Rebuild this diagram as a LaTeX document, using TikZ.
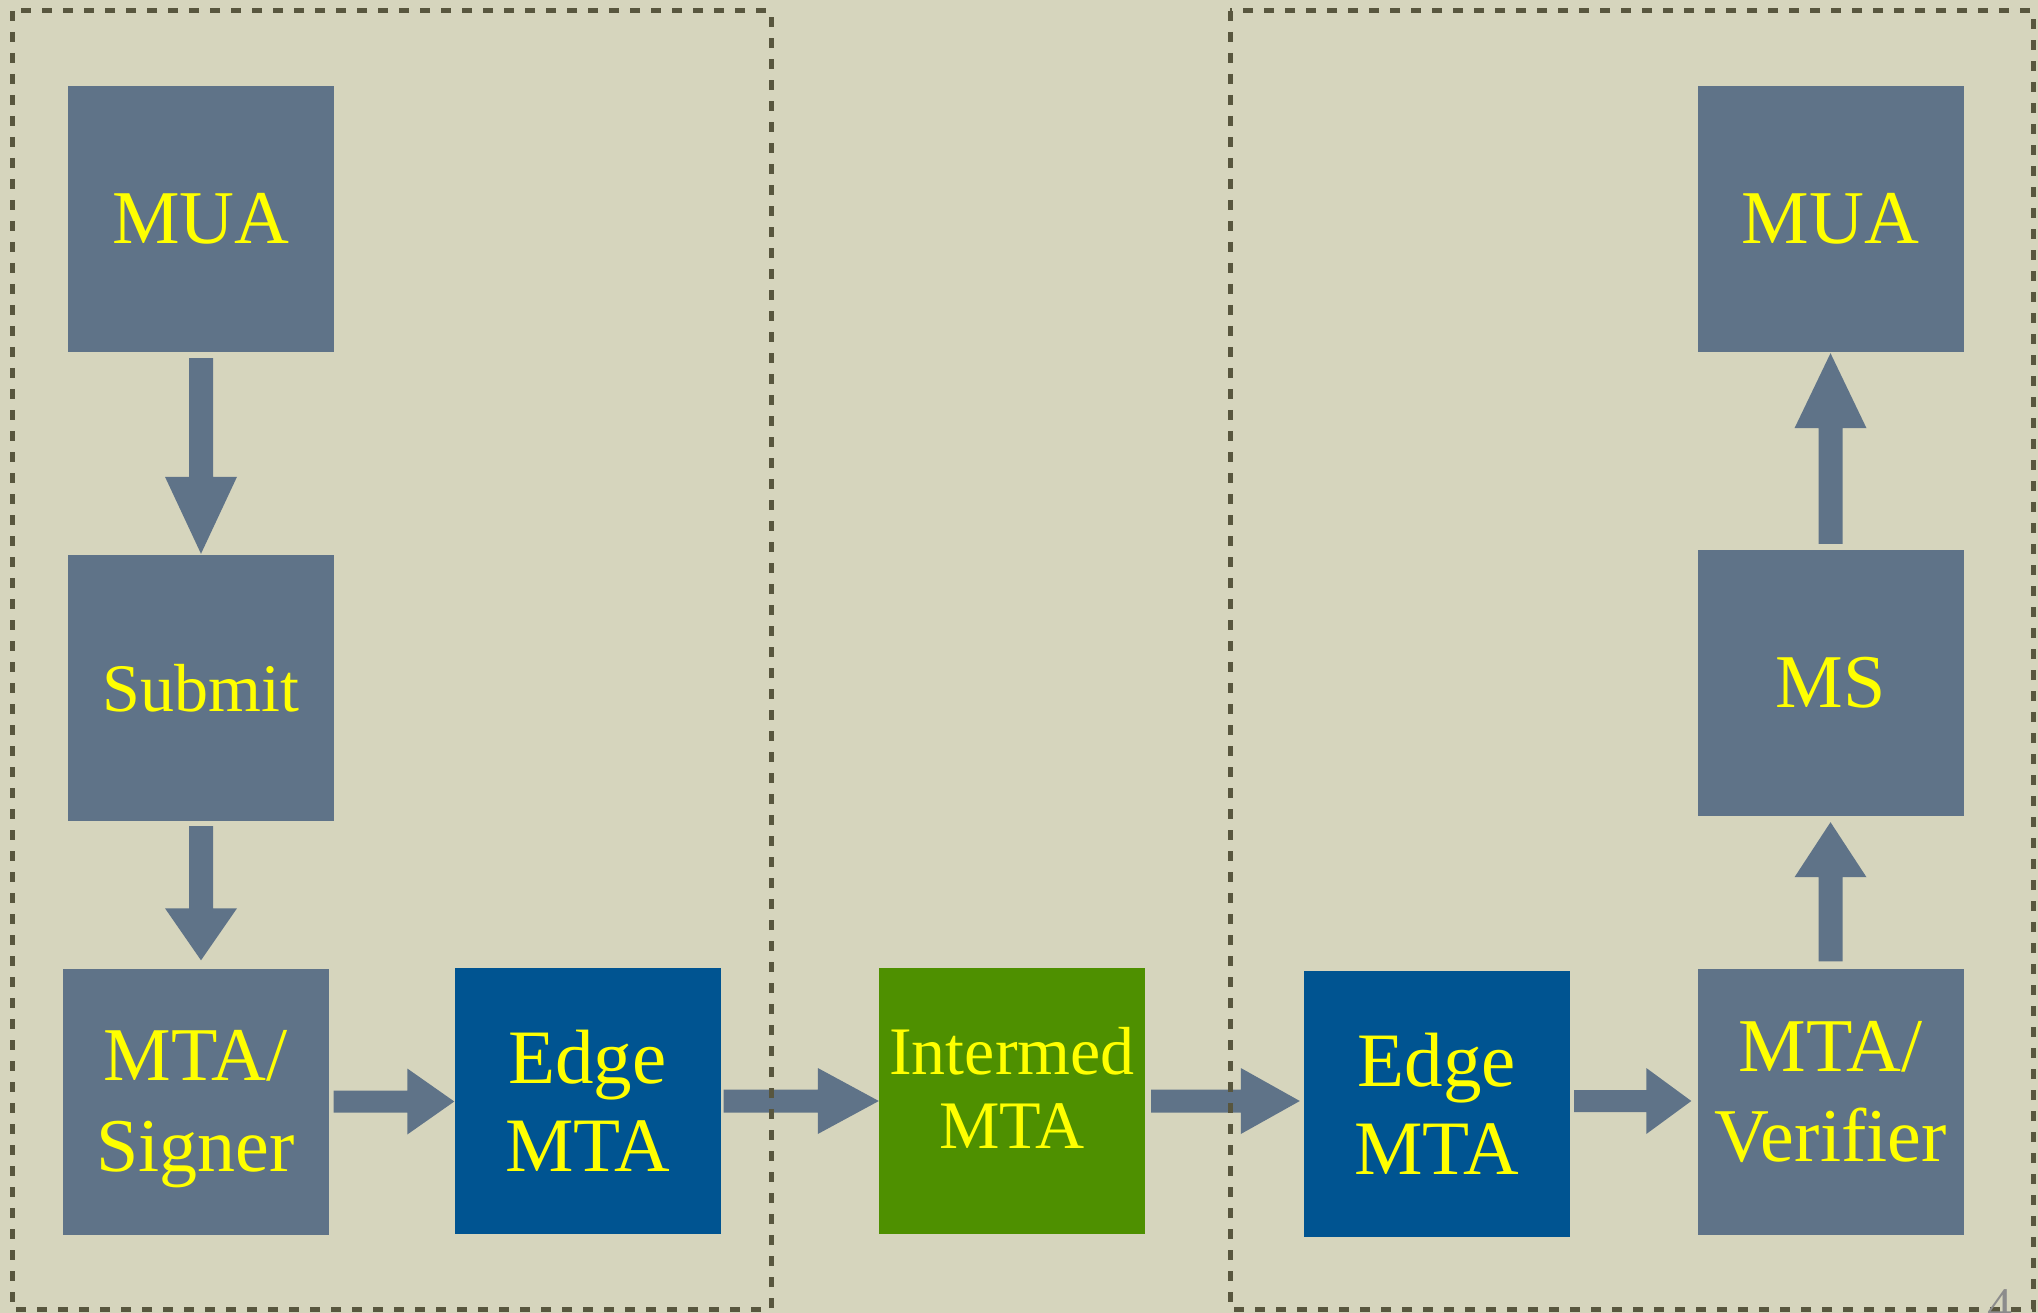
\documentclass[tikz,border=0pt]{standalone}
\usepackage{fontspec}
\setmainfont{Liberation Serif}
\usetikzlibrary{calc}
\definecolor{bgc}{RGB}{214,213,189}
\definecolor{slate}{RGB}{95,115,136}
\definecolor{edgeblue}{RGB}{0,84,145}
\definecolor{intgreen}{RGB}{78,144,0}
\definecolor{dashc}{RGB}{88,86,62}
\definecolor{txtyellow}{RGB}{255,255,0}
\definecolor{pagegray}{RGB}{140,140,140}
% #1 from, #2 to, #3 start gap, #4 end gap, #5 shaft half width, #6 head half width, #7 head length
\newcommand{\blockarrow}[7]{%
  \coordinate (ba-s) at ($(#1)!#3!(#2)$);
  \coordinate (ba-e) at ($(#2)!#4!(#1)$);
  \coordinate (ba-h) at ($(ba-e)!#7!(ba-s)$);
  \fill[arrowfill] ($(ba-s)!#5!90:(ba-e)$) -- ($(ba-h)!#5!90:(ba-e)$) --
    ($(ba-h)!#6!90:(ba-e)$) -- (ba-e) -- ($(ba-h)!#6!-90:(ba-e)$) --
    ($(ba-h)!#5!-90:(ba-e)$) -- ($(ba-s)!#5!-90:(ba-e)$) -- cycle;
}
\tikzset{
  box/.style={minimum width=266pt, minimum height=266pt, inner sep=0pt,
    text=txtyellow, align=center, font=\fontsize{76}{90}\selectfont},
  slatebox/.style={box, fill=slate},
  edgebox/.style={box, fill=edgeblue},
  interbox/.style={box, fill=intgreen},
  lbl/.style={inner sep=0pt, text=txtyellow, align=center, font=\fontsize{76}{90}\selectfont},
  arrowfill/.style={fill=slate},
  zone/.style={draw=dashc, line width=5pt, dash pattern=on 10pt off 11pt},
}
\begin{document}
\begin{tikzpicture}[x=1pt,y=-1pt]
\useasboundingbox (0,0) rectangle (2038,1313);
\fill[bgc] (0,0) rectangle (2038,1313);

% nodes
\node[slatebox] (mua1) at (201,219) {MUA};
\node[slatebox, font=\fontsize{68}{80}\selectfont] (submit) at (201,688) {Submit};
\node[slatebox] (signer) at (195.5,1101.5) {};
\node[lbl, font=\fontsize{76}{91}\selectfont, yshift=-8pt] (signer-t) at (signer.center) {MTA/\\Signer};
\node[edgebox, font=\fontsize{77}{88}\selectfont] (edge1) at (587.5,1101) {Edge\\MTA};
\node[interbox] (inter) at (1012,1101) {};
\node[lbl, font=\fontsize{68}{74}\selectfont, yshift=13pt] (inter-t) at (inter.center) {Intermed\\MTA};
\node[edgebox, font=\fontsize{77}{88}\selectfont] (edge2) at (1437,1104) {Edge\\MTA};
\node[slatebox] (verif) at (1830.5,1101.5) {};
\node[lbl, font=\fontsize{76}{90}\selectfont, yshift=10pt] (verif-t) at (verif.center) {MTA/\\Verifier};
\node[slatebox] (ms) at (1830.5,683) {MS};
\node[slatebox] (mua2) at (1830.5,219) {MUA};

% connectors
\blockarrow{mua1.south}{submit.north}{6pt}{1pt}{12pt}{36pt}{77pt}
\blockarrow{submit.south}{signer.north -| submit.south}{5pt}{8pt}{12pt}{36pt}{52pt}
\blockarrow{signer.east}{signer.east -| edge1.west}{5pt}{0pt}{11pt}{33pt}{47pt}
\blockarrow{edge1.east}{edge1.east -| inter.west}{3pt}{0pt}{11.5pt}{33pt}{61pt}
\blockarrow{inter.east}{inter.east -| edge2.west}{6pt}{4pt}{11.5pt}{33pt}{59pt}
\blockarrow{inter.east -| edge2.east}{inter.east -| verif.west}{4pt}{6pt}{11pt}{33pt}{45pt}
\blockarrow{verif.north}{ms.south}{7pt}{6pt}{12pt}{36pt}{55pt}
\blockarrow{ms.north}{mua2.south}{6pt}{1pt}{12pt}{36pt}{75pt}

% zones
\draw[zone] (12,11) rectangle (771,1309);
\draw[zone] (1230,11) rectangle (2033,1309);

% page number (cut off at the lower edge, as in the reference)
\node[anchor=north east, inner sep=0pt, text=pagegray, font=\fontsize{50}{60}\selectfont] (pagenum) at (2013,1289) {4};
\end{tikzpicture}
\end{document}
